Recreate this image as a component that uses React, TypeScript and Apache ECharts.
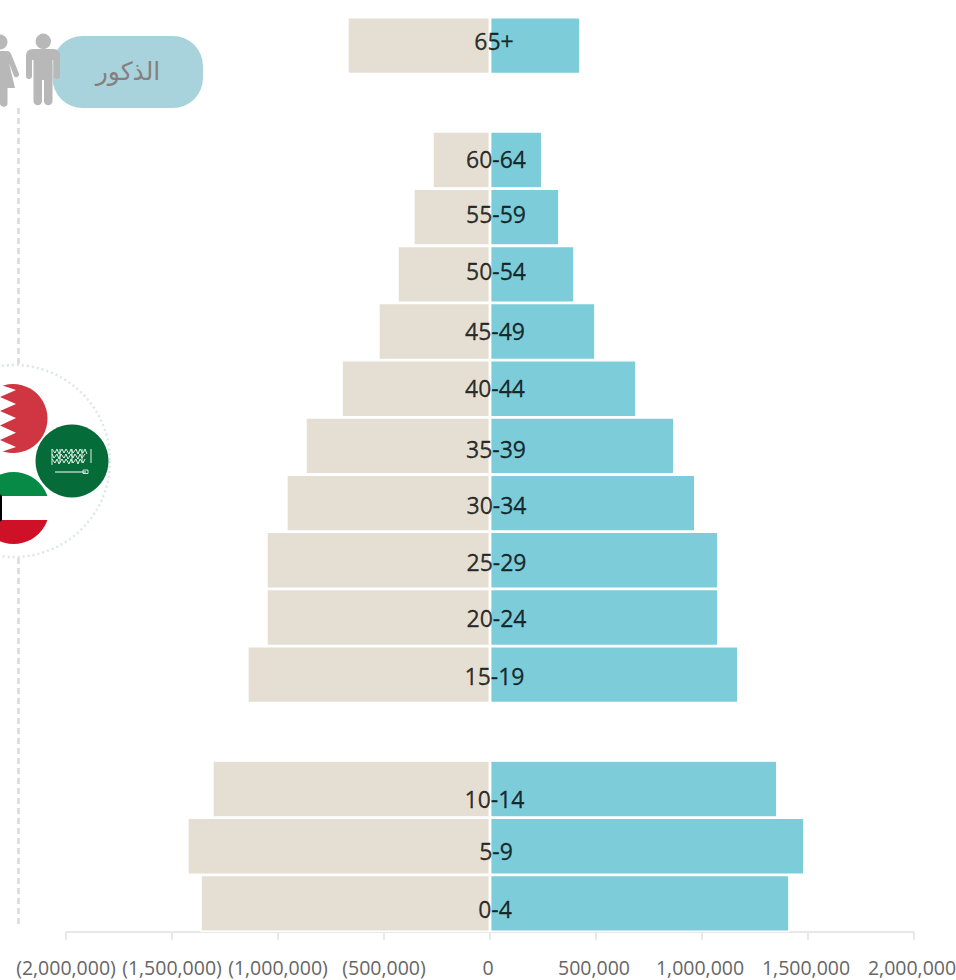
import React, { useEffect, useRef } from "react";
import * as echarts from "echarts";

const categories = ["0-4", "5-9", "10-14", "gapA", "15-19", "20-24", "25-29", "30-34", "35-39", "40-44", "45-49", "50-54", "55-59", "60-64", "gapB", "65+"];
const females = [-1366000, -1428000, -1310000, null, -1145000, -1055000, -1055000, -961000, -871000, -701000, -527000, -437000, -362000, -272000, null, -673000];
const males = [1413000, 1483000, 1356000, null, 1172000, 1078000, 1078000, 969000, 870000, 691000, 498000, 399000, 328000, 247000, null, 427000];
const labelOffsets: number[][] = [[5, 5.5], [6, 5], [4.5, 9.5], [0, 0], [4.5, 1], [6.5, 0.5], [6.5, 2], [6.5, 2], [6, 3], [5, -1], [5, -1], [6, -3.5], [6, -3.5], [6, -0.5], [0, 0], [4, -5]];
const xTicks = { min: -2000000, max: 2000000, step: 500000 };

const manPath = "M33 49 H53 Q60 49 60 56 V76 A3 3 0 0 1 54 76 V60 H52.5 V101 A4.25 4.25 0 0 1 44 101 V80 H42 V101 A4.25 4.25 0 0 1 33.5 101 V60 H32 V76 A3 3 0 0 1 26 76 V56 Q26 49 33 49 Z";
const womanPath = "M-8 51 H7 Q10 51 11.5 55 L18.7 73 A2.8 2.8 0 0 1 14 76 L9 63 L15 88 H7.5 V103 A3.7 3.7 0 0 1 0 103 V88 H-8 Z";
const scriptPath = "M52 449 l3 4 2 -4 2 5 3 -5 2 4 2 -4 3 5 2 -5 2 4 3 -4 2 5 2 -5 3 4 2 -4 2 5 M52 454 l2 4 3 -4 2 5 2 -5 3 4 2 -4 2 5 3 -5 2 4 2 -4 3 5 2 -5 2 4 3 -4 M52 459 l3 4 2 -4 2 5 3 -5 2 4 2 -4 3 5 2 -5 2 4 3 -4 2 5 2 -5 3 4 2 -4 M52 449 V465 M91 449 V463 M60 449 V463 M72 449 V463 M82 449 V463";

echarts.graphic.registerShape("manIcon", echarts.graphic.extendPath(manPath, {}));
echarts.graphic.registerShape("womanIcon", echarts.graphic.extendPath(womanPath, {}));
echarts.graphic.registerShape("flagScript", echarts.graphic.extendPath(scriptPath, {}));

export default function App() {
  const ref = useRef<HTMLDivElement>(null);
  useEffect(() => {
    const chart = echarts.init(ref.current!, undefined, { renderer: "svg" });
    const kuwait = new echarts.graphic.LinearGradient(0, 0, 0, 1, [
      { offset: 0, color: "#078a45" },
      { offset: 0.33, color: "#078a45" },
      { offset: 0.33, color: "#ffffff" },
      { offset: 0.665, color: "#ffffff" },
      { offset: 0.665, color: "#ce1126" },
      { offset: 1, color: "#ce1126" },
    ]);
    const tickFont = { fontFamily: "Open Sans", fontSize: 19.5, color: "#666666" };
    chart.setOption({
      animation: false,
      grid: { left: 66, right: 42, top: 17, height: 915, containLabel: false, outerBoundsMode: "none" },
      xAxis: {
        type: "value",
        min: xTicks.min,
        max: xTicks.max,
        interval: xTicks.step,
        splitLine: { show: false },
        axisLine: { show: true, lineStyle: { color: "#e8e8e8", width: 2 } },
        axisTick: { show: true, length: 8, lineStyle: { color: "#e8e8e8", width: 2 } },
        axisLabel: {
          margin: 25,
          ...tickFont,
          showMinLabel: true,
          showMaxLabel: true,
          hideOverlap: false,
          rich: { pos: { ...tickFont, padding: [0, 4, 0, 0] } },
          formatter: (v: number) => {
            const s = Math.abs(v).toLocaleString("en-US");
            return v < 0 ? `(${s})` : `{pos|${s}}`;
          },
        },
      },
      yAxis: {
        type: "category",
        data: categories,
        axisLine: { show: false },
        axisTick: { show: false },
        axisLabel: { show: false },
        splitLine: { show: false },
      },
      series: [
        {
          type: "bar",
          stack: "pop",
          barWidth: "100%",
          data: females,
          itemStyle: { color: "#e5dfd3", borderColor: "#ffffff", borderWidth: 1.4 },
        },
        {
          type: "bar",
          stack: "pop",
          barWidth: "100%",
          data: males,
          itemStyle: { color: "#7ccdd9", borderColor: "#ffffff", borderWidth: 1.4 },
        },
        {
          type: "scatter",
          symbolSize: 1,
          itemStyle: { color: "transparent" },
          z: 10,
          silent: true,
          data: categories
            .map((c, i) => ({
              name: c,
              value: [0, i],
              label: {
                show: !c.startsWith("gap"),
                position: "inside",
                offset: labelOffsets[i],
                formatter: c,
                fontFamily: "Open Sans",
                fontSize: 23,
                color: "#000000",
                textBorderColor: "#000000",
                textBorderWidth: 0.3,
              },
            })),
        },
      ],
      graphic: [
        { type: "line", shape: { x1: 18.5, y1: 108, x2: 18.5, y2: 365 }, style: { stroke: "#d9d9d9", lineWidth: 2.5, lineDash: [6, 4] } },
        { type: "line", shape: { x1: 18.5, y1: 558, x2: 18.5, y2: 925 }, style: { stroke: "#d9d9d9", lineWidth: 2.5, lineDash: [6, 4] } },
        { type: "circle", shape: { cx: 14, cy: 461, r: 96 }, style: { fill: "none", stroke: "#dbe7e7", lineWidth: 2.5, lineDash: [2, 3] } },
        { type: "rect", shape: { x: 52.5, y: 36, width: 150.5, height: 72, r: 30 }, style: { fill: "#a9d3dc" } },
        { type: "text", x: 128, y: 71, style: { text: "الذكور", fill: "#857f80", fontSize: 25, fontFamily: "DejaVu Sans", align: "center", verticalAlign: "middle" } },
        { type: "circle", shape: { cx: 43.3, cy: 41.3, r: 7.7 }, style: { fill: "#b8b8b8" } },
        { type: "manIcon", style: { fill: "#b8b8b8" } },
        { type: "circle", shape: { cx: 0, cy: 42, r: 7.5 }, style: { fill: "#b8b8b8" } },
        { type: "womanIcon", style: { fill: "#b8b8b8" } },
        { type: "circle", shape: { cx: 13, cy: 418.5, r: 34.5 }, style: { fill: "#cf3642" } },
        { type: "polygon", shape: { points: [[0, 384], [4, 386], [16, 390], [0, 397], [16, 404], [0, 411], [16, 418], [0, 425.5], [16, 432.7], [0, 440], [16, 447], [4, 451], [0, 453]] }, style: { fill: "#ffffff" } },
        { type: "circle", shape: { cx: 13.5, cy: 508, r: 36 }, style: { fill: kuwait } },
        { type: "polygon", shape: { points: [[0, 494], [2, 496], [2, 520], [0, 522]] }, style: { fill: "#000000" } },
        { type: "circle", shape: { cx: 72, cy: 461, r: 36.5 }, style: { fill: "#056b38" } },
        { type: "flagScript", style: { fill: "none", stroke: "#e4efe8", lineWidth: 1 } },
        { type: "line", shape: { x1: 55, y1: 472, x2: 86, y2: 472 }, style: { stroke: "#ffffff", lineWidth: 1 } },
        { type: "rect", shape: { x: 83, y: 470, width: 5, height: 3.5 }, style: { fill: "none", stroke: "#ffffff", lineWidth: 0.8 } },
      ],
    });
    return () => chart.dispose();
  }, []);
  return <div ref={ref} style={{ position: "absolute", left: 0, top: 0, width: 956, height: 980 }} />;
}
